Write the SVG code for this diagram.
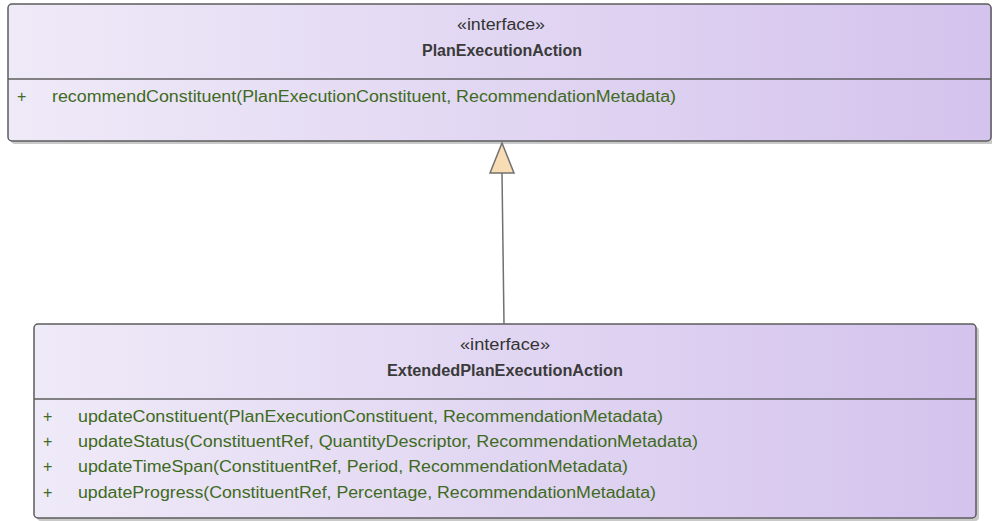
<svg xmlns="http://www.w3.org/2000/svg" width="992" height="521" viewBox="0 0 992 521">
<defs>
<linearGradient id="g" x1="0" y1="0" x2="1" y2="0">
<stop offset="0" stop-color="#efeaf8"/>
<stop offset="1" stop-color="#d4c3ed"/>
</linearGradient>
<style>
.box{fill:url(#g);stroke:#5c5c5c;stroke-width:1.5}
.shadow{fill:#c9c9c9}
.div{stroke:#5c5c5c;stroke-width:1.5}
.st{font-family:"Liberation Sans",Arial,sans-serif;font-size:16px;fill:#333}
.ti{font-family:"Liberation Sans",Arial,sans-serif;font-size:16px;font-weight:bold;fill:#3a3a3a}
.op{font-family:"Liberation Sans",Arial,sans-serif;font-size:16px;fill:#3e6a22}
.conn{stroke:#707070;stroke-width:1.5;fill:none}
.head{fill:#f8dcb3;stroke:#707070;stroke-width:1.5}
</style>
</defs>
<g id="PlanExecutionAction">
<rect class="shadow" x="11" y="7" width="983" height="137" rx="4"/>
<rect class="box" x="8" y="4" width="983" height="137" rx="4"/>
<line class="div" x1="8" y1="79" x2="991" y2="79"/>
<text class="st" x="457" y="30" textLength="88" lengthAdjust="spacingAndGlyphs">«interface»</text>
<text class="ti" x="422" y="56" textLength="160" lengthAdjust="spacingAndGlyphs">PlanExecutionAction</text>
<text class="op" x="17" y="102">+</text>
<text class="op" x="52" y="102" textLength="624" lengthAdjust="spacingAndGlyphs">recommendConstituent(PlanExecutionConstituent, RecommendationMetadata)</text>
</g>
<g id="ExtendedPlanExecutionAction">
<rect class="shadow" x="37" y="327" width="942" height="194" rx="4"/>
<rect class="box" x="34" y="324" width="942" height="194" rx="4"/>
<line class="div" x1="34" y1="399" x2="976" y2="399"/>
<text class="st" x="460" y="350" textLength="90" lengthAdjust="spacingAndGlyphs">«interface»</text>
<text class="ti" x="387" y="376" textLength="236" lengthAdjust="spacingAndGlyphs">ExtendedPlanExecutionAction</text>
<text class="op" x="43" y="422">+</text>
<text class="op" x="78" y="422" textLength="585" lengthAdjust="spacingAndGlyphs">updateConstituent(PlanExecutionConstituent, RecommendationMetadata)</text>
<text class="op" x="43" y="447">+</text>
<text class="op" x="78" y="447" textLength="620" lengthAdjust="spacingAndGlyphs">updateStatus(ConstituentRef, QuantityDescriptor, RecommendationMetadata)</text>
<text class="op" x="43" y="472">+</text>
<text class="op" x="78" y="472" textLength="550" lengthAdjust="spacingAndGlyphs">updateTimeSpan(ConstituentRef, Period, RecommendationMetadata)</text>
<text class="op" x="43" y="498">+</text>
<text class="op" x="78" y="498" textLength="578" lengthAdjust="spacingAndGlyphs">updateProgress(ConstituentRef, Percentage, RecommendationMetadata)</text>
</g>
<g id="connectors">
<line class="conn" x1="504" y1="324" x2="502" y2="173"/>
<polygon class="head" points="502,143 514,173 490,173"/>
</g>
</svg>
